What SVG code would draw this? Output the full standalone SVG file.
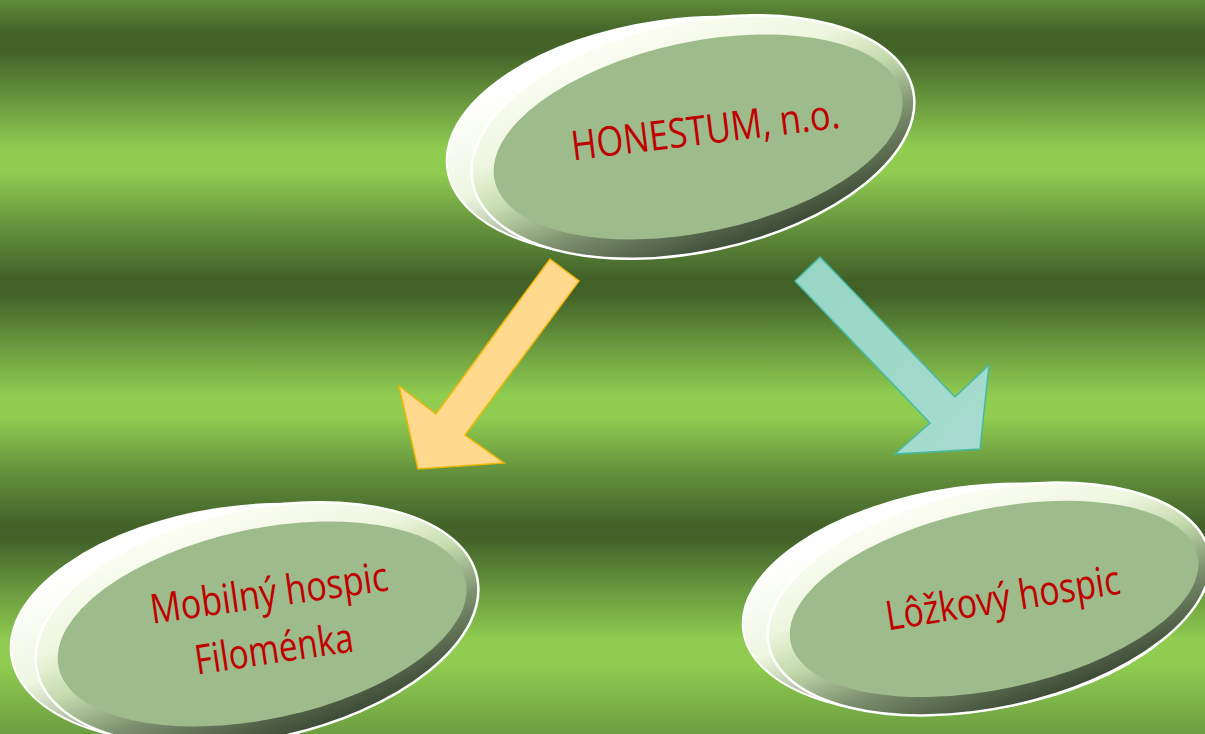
<svg xmlns="http://www.w3.org/2000/svg" width="1205" height="734" viewBox="0 0 1205 734">
<defs>
<linearGradient id="bg" x1="0" y1="0" x2="0" y2="734" gradientUnits="userSpaceOnUse">
<stop offset="0" stop-color="#5e8b39"/>
<stop offset="0.046" stop-color="#436228"/>
<stop offset="0.07" stop-color="#436228"/>
<stop offset="0.138" stop-color="#69993e"/>
<stop offset="0.202" stop-color="#8fcc50"/>
<stop offset="0.236" stop-color="#8fcc50"/>
<stop offset="0.305" stop-color="#66953d"/>
<stop offset="0.38" stop-color="#426128"/>
<stop offset="0.40" stop-color="#426128"/>
<stop offset="0.471" stop-color="#69993e"/>
<stop offset="0.538" stop-color="#8fcc50"/>
<stop offset="0.57" stop-color="#8fcc50"/>
<stop offset="0.638" stop-color="#66953d"/>
<stop offset="0.715" stop-color="#436229"/>
<stop offset="0.735" stop-color="#436229"/>
<stop offset="0.804" stop-color="#69993e"/>
<stop offset="0.872" stop-color="#8fcc50"/>
<stop offset="0.906" stop-color="#8fcc50"/>
<stop offset="1" stop-color="#6c9e40"/>
</linearGradient>
<linearGradient id="bevel" x1="0.3" y1="0" x2="0.62" y2="1">
<stop offset="0" stop-color="#fdfef5"/>
<stop offset="0.32" stop-color="#eef6df"/>
<stop offset="0.5" stop-color="#c4dbad"/>
<stop offset="0.72" stop-color="#7a8d6c"/>
<stop offset="1" stop-color="#384732"/>
</linearGradient>
<linearGradient id="back" x1="0" y1="0.25" x2="0.3" y2="1">
<stop offset="0" stop-color="#ffffff"/>
<stop offset="0.45" stop-color="#eef6e0"/>
<stop offset="0.75" stop-color="#a0b392"/>
<stop offset="1" stop-color="#62745a"/>
</linearGradient>
<linearGradient id="cyan" x1="0" y1="0" x2="1" y2="1">
<stop offset="0" stop-color="#97d5c3"/>
<stop offset="1" stop-color="#a6dccf"/>
</linearGradient>
<style>
.back{fill:url(#back);stroke:#ffffff;stroke-width:2}
.front{fill:url(#bevel);stroke:#ffffff;stroke-width:2.5}
.face{fill:#9dbb8b}
.lbl{font-family:"Open Sans","Noto Sans","DejaVu Sans",sans-serif;font-size:41px;fill:#c00000;text-anchor:middle}
</style>
</defs>
<rect x="0" y="0" width="1205" height="734" fill="url(#bg)"/>

<g id="connectors">
<polygon points="550,259 579,281 465,435 504,463 418,469 399,386 436,414" fill="#ffd98e" stroke="#f2b705" stroke-width="1.5"/>
<polygon points="820,257 955,397 989,365 980,449 895,454 930,423 795,281" fill="url(#cyan)" stroke="#45bba7" stroke-width="1.5"/>
</g>

<g id="node-honestum">
<ellipse class="back" cx="675" cy="137" rx="230" ry="117" transform="rotate(-8 675 137)"/>
<g transform="translate(693 137) rotate(-12)">
<ellipse class="front" cx="0" cy="0" rx="225" ry="115"/>
<ellipse class="face" cx="5" cy="1" rx="208" ry="95"/>
</g>
<text class="lbl" x="707" y="144" textLength="270" lengthAdjust="spacingAndGlyphs" transform="rotate(-7 707 144)">HONESTUM, n.o.</text>
</g>

<g id="node-mobilny">
<ellipse class="back" cx="239" cy="624" rx="230" ry="117" transform="rotate(-8 239 624)"/>
<g transform="translate(257 624) rotate(-12)">
<ellipse class="front" cx="0" cy="0" rx="225" ry="115"/>
<ellipse class="face" cx="5" cy="1" rx="208" ry="95"/>
</g>
<text class="lbl" x="271" y="607" textLength="240" lengthAdjust="spacingAndGlyphs" transform="rotate(-8 271 607)">Mobilný hospic</text>
<text class="lbl" x="276" y="663" textLength="160" lengthAdjust="spacingAndGlyphs" transform="rotate(-8.5 276 663)">Filoménka</text>
</g>

<g id="node-lozkovy">
<ellipse class="back" cx="971" cy="599" rx="230" ry="112" transform="rotate(-8 971 599)"/>
<g transform="translate(989 599) rotate(-12)">
<ellipse class="front" cx="0" cy="0" rx="225" ry="109"/>
<ellipse class="face" cx="5" cy="1" rx="208" ry="90"/>
</g>
<text class="lbl" x="1005" y="612" textLength="237" lengthAdjust="spacingAndGlyphs" transform="rotate(-9 1005 612)">Lôžkový hospic</text>
</g>
</svg>
